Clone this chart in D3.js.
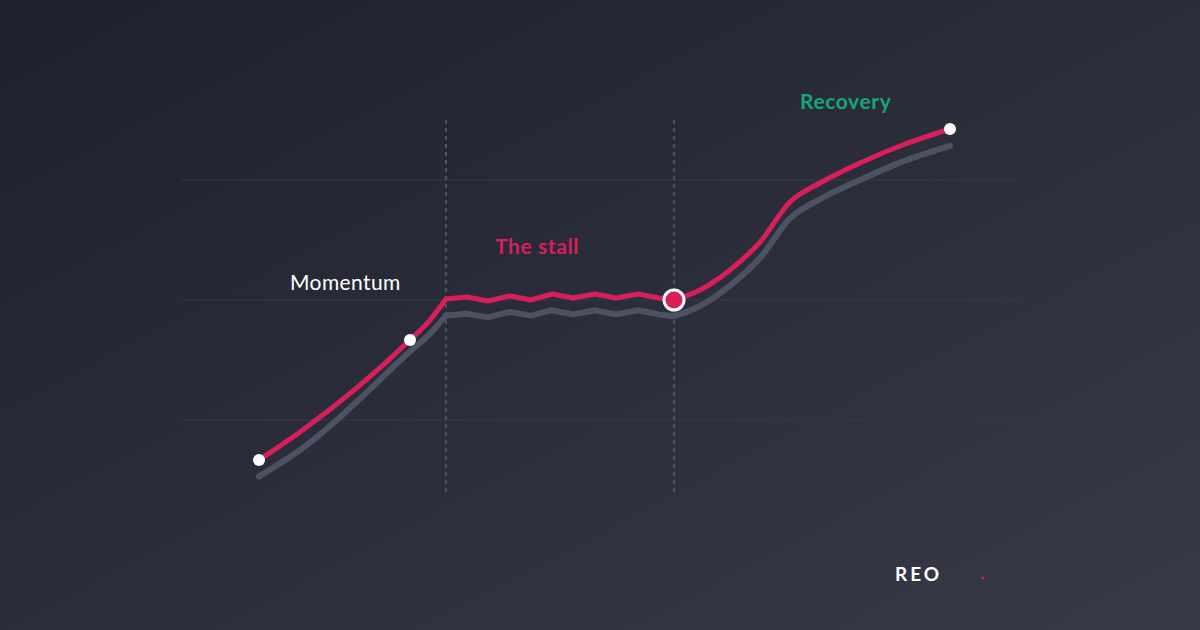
<!DOCTYPE html><html><head><meta charset="utf-8"><script src="https://cdn.jsdelivr.net/npm/d3@7"></script>
<style>body{margin:0}svg{display:block}</style></head><body><svg id="c" width="1200" height="630"></svg>
<script>
const xs=[77,118,228,248,264,285,306,328,349,370,391,413,434,456,477,492,518,548,578,608,638,678,718,768];
const red=[0.667,0.9,1.667,1.833,2.008,2.025,1.992,2.033,2.0,2.05,2.017,2.05,2.017,2.05,2.017,2.0,2.083,2.25,2.483,2.817,2.975,3.142,3.283,3.425];
const gray=[0.53,0.75,1.57,1.72,1.87,1.885,1.855,1.9,1.87,1.915,1.88,1.915,1.88,1.915,1.88,1.865,1.95,2.12,2.35,2.68,2.84,3.0,3.145,3.285];
const grid=[1,2,3];
const phases=[264,492];
const markers=[0,2,23];
const segs=[[0,4,"mono"],[4,15,"lin"],[15,23,"mono"]];
const svg=d3.select("#c");
const defs=svg.append("defs");
const g=defs.append("linearGradient").attr("id","bg").attr("x1",0).attr("y1",0).attr("x2",1).attr("y2",1);
g.append("stop").attr("offset",0).attr("stop-color","#1e202e");
g.append("stop").attr("offset",1).attr("stop-color","#393a47");
svg.append("rect").attr("width",1200).attr("height",630).attr("fill","url(#bg)");
const x=d3.scaleLinear().domain([0,838]).range([182,1020]);
const y=d3.scaleLinear().domain([0,4]).range([540,60]);
svg.selectAll(".gl").data(grid).join("line").attr("x1",182).attr("x2",1020).attr("y1",d=>y(d)).attr("y2",d=>y(d)).attr("stroke","#363949").attr("stroke-width",1.2);
svg.selectAll(".ph").data(phases).join("line").attr("x1",d=>x(d)).attr("x2",d=>x(d)).attr("y1",120).attr("y2",495).attr("stroke","#5d606e").attr("stroke-width",1.5).attr("stroke-dasharray","4,4");
function draw(vals,col,w){
  segs.forEach(([a,b,k])=>{
    const pts=d3.range(a,b+1).map(i=>[x(xs[i]),y(vals[i])]);
    const l=d3.line().curve(k==="lin"?d3.curveLinear:d3.curveMonotoneX);
    svg.append("path").attr("d",l(pts)).attr("fill","none").attr("stroke",col).attr("stroke-width",w).attr("stroke-linecap","round").attr("stroke-linejoin","round");
  });
}
draw(gray,"#4a5264",6);
draw(red,"#d81f5a",5);
svg.selectAll(".m").data(markers).join("circle").attr("cx",i=>x(xs[i])).attr("cy",i=>y(red[i])).attr("r",6).attr("fill","#fff");
svg.append("circle").attr("cx",x(xs[15])).attr("cy",y(red[15])).attr("r",10).attr("fill","#d81f5a").attr("stroke","#fff").attr("stroke-width",3);
const t=(s,X,Y,c,w)=>svg.append("text").text(s).attr("x",X).attr("y",Y).attr("fill",c).attr("font-family","Lato, 'Open Sans', sans-serif").attr("font-size",21).attr("font-weight",w);
t("Momentum",290,290,"#ffffff",400).attr("letter-spacing",0.4);
t("The stall",495,254,"#d81f5a",700).attr("letter-spacing",0.6);
t("Recovery",800,109,"#16a57a",700).attr("letter-spacing",0.6);
t("REO",895,581,"#ffffff",700).attr("letter-spacing",3).attr("font-size",19);
svg.append("circle").attr("cx",983).attr("cy",578).attr("r",1.5).attr("fill","#d81f5a");
</script></body></html>
